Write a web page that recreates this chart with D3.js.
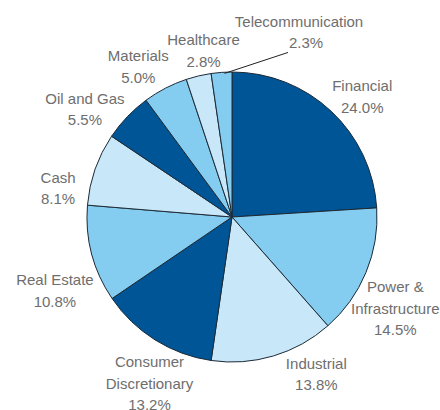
<!DOCTYPE html>
<html>
<head>
<meta charset="utf-8">
<script src="https://cdn.jsdelivr.net/npm/d3@7"></script>
<style>
  body { margin: 0; background: #fff; }
  svg text { font-family: "Liberation Sans", Arial, sans-serif; font-size: 15px; fill: #6e6e6e; }
</style>
</head>
<body>
<div id="chart"></div>
<script>
// --- Données ---
const sectors = ["Financial", "Power & Infrastructure", "Industrial", "Consumer Discretionary",
  "Real Estate", "Cash", "Oil and Gas", "Materials", "Healthcare", "Telecommunication"];
const shares = [24.0, 14.5, 13.8, 13.2, 10.8, 8.1, 5.5, 5.0, 2.8, 2.3];
const labelLines = [
  ["Financial"], ["Power &", "Infrastructure"], ["Industrial"], ["Consumer", "Discretionary"],
  ["Real Estate"], ["Cash"], ["Oil and Gas"], ["Materials"], ["Healthcare"], ["Telecommunication"]
];
const colorKeys = ["dark", "mid", "light", "dark", "mid", "light", "dark", "mid", "light", "mid"];

// --- Mise en page ---
const width = 440, height = 410;
const cx = 232, cy = 217, radius = 145;
const labelRadius = 180;
const lineH = 21.5;
// décalage des étiquettes par rapport au centroïde (px)
const labelNudge = [[7, 11], [-3, 23], [33, -15], [13, 14], [-3, 28], [-4, 31], [-17, 17], [-11, 10], [13, 9], [80, -5]];
const palette = { dark: "#005596", mid: "#84cdf1", light: "#c8e7f8" };

const data = sectors.map((s, i) => ({ sector: s, value: shares[i], lines: labelLines[i], key: colorKeys[i], nudge: labelNudge[i] }));

const svg = d3.select("#chart").append("svg")
  .attr("width", width).attr("height", height);

const g = svg.append("g").attr("transform", `translate(${cx},${cy})`);

const pie = d3.pie().value(d => d.value).sort(null);
const arc = d3.arc().innerRadius(0).outerRadius(radius);
const labelArc = d3.arc().innerRadius(labelRadius).outerRadius(labelRadius);
const edgeArc = d3.arc().innerRadius(radius).outerRadius(radius);

const arcs = pie(data);

g.selectAll("path.slice")
  .data(arcs)
  .enter()
  .append("path")
  .attr("class", "slice")
  .attr("d", arc)
  .attr("fill", d => palette[d.data.key])
  .attr("stroke", "#1c2a36")
  .attr("stroke-width", 1)
  .attr("stroke-linejoin", "round");

// Étiquettes
const labels = g.selectAll("g.label")
  .data(arcs)
  .enter()
  .append("g")
  .attr("class", "label")
  .attr("transform", d => {
    const [x, y] = labelArc.centroid(d);
    return `translate(${x + d.data.nudge[0]},${y + d.data.nudge[1]})`;
  });

labels.each(function(d) {
  const lines = d.data.lines.concat([d.data.value.toFixed(1) + "%"]);
  const n = lines.length;
  const t = d3.select(this).append("text").attr("text-anchor", "middle");
  lines.forEach((line, i) => {
    t.append("tspan")
      .attr("x", d.data.sector === "Telecommunication" && i === n - 1 ? 7 : 0)
      .attr("y", 5 + (i - (n - 1) / 2) * lineH)
      .text(line);
  });
});

// Ligne de renvoi pour Telecommunication
const tele = arcs[arcs.length - 1];
const [ex, ey] = edgeArc.centroid(tele);
const [lx, ly] = labelArc.centroid(tele);
g.append("line")
  .attr("x1", ex + 3).attr("y1", ey + 1)
  .attr("x2", lx + tele.data.nudge[0] - 11)
  .attr("y2", ly + tele.data.nudge[1] + 20)
  .attr("stroke", "#222")
  .attr("stroke-width", 1);
</script>
</body>
</html>
